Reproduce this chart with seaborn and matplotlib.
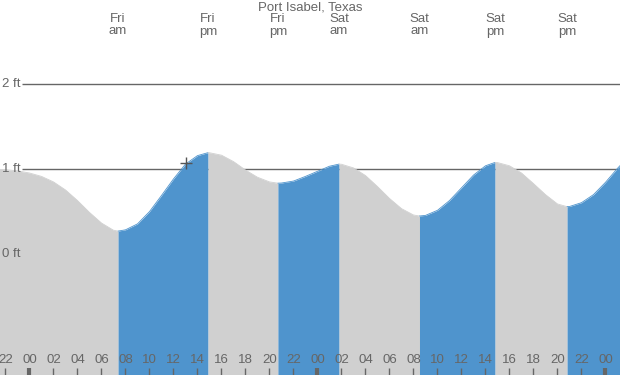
import numpy as np
import seaborn as sns
from matplotlib import pyplot as plt

# tide heights (ft), hours counted from Fri 00:00
hours = [-3, -2, -1, 0, 1, 2, 3, 4, 5, 6, 7, 7.38, 8, 9, 10, 11, 12, 13, 14, 14.88,
         15, 16, 17, 18, 19, 20, 20.7, 21, 22, 23, 24, 25, 25.8, 26, 27, 28, 29, 30,
         31, 32, 32.5, 33, 34, 35, 36, 37, 38, 38.8, 39, 40, 41, 42, 43, 44, 44.8,
         45, 46, 47, 48, 49, 50]
heights = [1.00, 0.995, 0.98, 0.955, 0.915, 0.85, 0.755, 0.63, 0.49, 0.365, 0.28, 0.27,
           0.285, 0.355, 0.50, 0.69, 0.885, 1.06, 1.16, 1.195,
           1.194, 1.165, 1.09, 0.99, 0.905, 0.85, 0.835, 0.837, 0.86, 0.915, 0.975, 1.035,
           1.06, 1.058, 1.015, 0.925, 0.795, 0.655,
           0.535, 0.46, 0.448, 0.455, 0.515, 0.63, 0.78, 0.93, 1.04, 1.08, 1.078, 1.04,
           0.955, 0.83, 0.70, 0.59, 0.558,
           0.56, 0.605, 0.70, 0.845, 1.01, 1.16]

# high / low tide times and their day labels
extreme_hours = [7.38, 14.88, 20.7, 25.8, 32.5, 38.8, 44.8]
extreme_labels = ['Fri\nam', 'Fri\npm', 'Fri\npm', 'Sat\nam', 'Sat\nam', 'Sat\npm', 'Sat\npm']

tick_hours = list(range(-2, 49, 2))
tick_labels = ['%02d' % (h % 24) for h in tick_hours]

now_hour, now_height = 13.04, 1.07

rising_color = '#4f94cd'
falling_color = '#d0d0d0'
text_color = '#666666'

sns.set_theme(style='white')
plt.rcParams['font.family'] = ['Liberation Sans', 'DejaVu Sans']

fig = plt.figure(figsize=(6.2, 3.75), dpi=100)
ax = fig.add_axes([0, 0, 1, 1])

hours = np.array(hours)
heights = np.array(heights)
bounds = [hours[0]] + extreme_hours + [hours[-1]]
for a, b in zip(bounds[:-1], bounds[1:]):
    sel = (hours >= a) & (hours <= b)
    seg_x, seg_y = hours[sel], heights[sel]
    color = rising_color if seg_y[-1] > seg_y[0] else falling_color
    ax.fill_between(seg_x, -2, seg_y, color=color, lw=0, zorder=1)
    sns.lineplot(x=seg_x, y=seg_y, color=color, lw=0.6, ax=ax, zorder=1)

# reference lines sit behind the tide fill
ax.hlines([1, 2], -0.62, 52, color=text_color, lw=1, zorder=0.5)
for lvl in [0, 1, 2]:
    ax.text(-2.3, lvl, '%d ft' % lvl, ha='left', va='center', fontsize=9.5,
            color=text_color, zorder=3)

ax.plot(now_hour, now_height, marker='+', ms=9, mew=1, color='#555555', zorder=3)

for h, lab in zip(extreme_hours, extreme_labels):
    ax.text(h, 0.932, lab, transform=ax.get_xaxis_transform(), ha='center', va='center',
            fontsize=9.5, color=text_color, linespacing=1.0)
ax.text(0.5, 0.981, 'Port Isabel, Texas', transform=ax.transAxes, ha='center',
        va='center', fontsize=9.5, color=text_color)

for h, lab in zip(tick_hours, tick_labels):
    ax.text(h, 0.04, lab, transform=ax.get_xaxis_transform(), ha='center', va='center',
            fontsize=9.5, color=text_color, zorder=3)
    thick = h % 24 == 0
    ax.plot([h, h], [0, 0.019], transform=ax.get_xaxis_transform(), color=text_color,
            lw=3 if thick else 1, solid_capstyle='butt', zorder=3)

ax.set_xlim(-2.458, 49.21)
ax.set_ylim(-1.427, 2.995)
ax.set_axis_off()

fig.savefig('out.png', dpi=100)
